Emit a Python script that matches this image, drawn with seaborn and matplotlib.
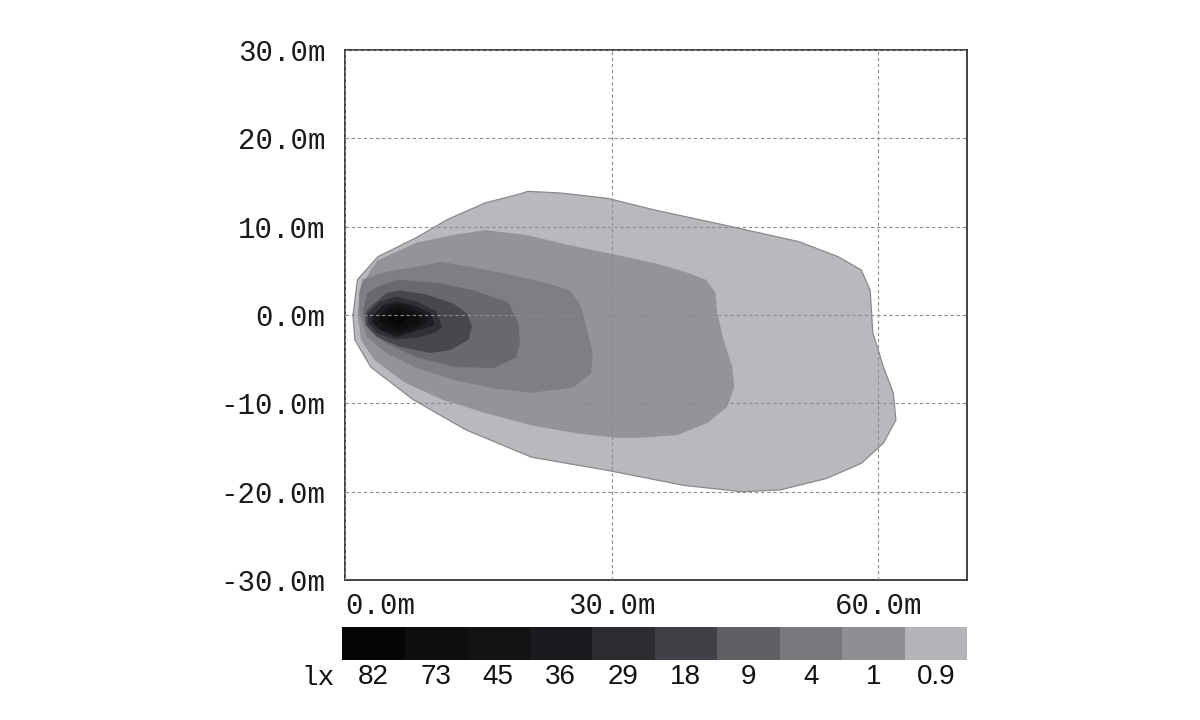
import numpy as np
import matplotlib
matplotlib.use("Agg")
import matplotlib.pyplot as plt
from matplotlib.colors import ListedColormap
import seaborn as sns

# ---------------- data ----------------
levels = ["82", "73", "45", "36", "29", "18", "9", "4", "1", "0.9"]
level_colors = ["#050507", "#0e0e10", "#121214", "#1b1b1f", "#2b2b30",
                "#404046", "#5f5f64", "#78787c", "#8f8f93", "#b5b5b9"]
fill_colors = ["#08080a", "#0f0f11", "#151517", "#1e1e22", "#303035",
               "#47474c", "#69696d", "#7f7f83", "#949498", "#b9b9bd"]

# iso-lux outlines (metres): x along beam, y lateral
c09_x = [0.9, 1.1, 2.9, 7.7, 13.6, 21.0, 29.6, 38.2, 44.7, 49.0, 54.2, 58.1, 60.6, 62.0,
         61.7, 60.6, 59.4, 59.1, 58.1, 55.5, 51.1, 42.6, 34.8, 29.6, 24.4, 20.6, 19.3,
         15.8, 11.5, 8.1, 3.7, 1.4]
c09_y = [0.0, -2.8, -5.9, -9.6, -13.0, -16.1, -17.6, -19.3, -20.0, -19.8, -18.5, -16.8,
         -14.5, -11.9, -8.8, -5.9, -2.0, 2.8, 5.1, 6.6, 8.3, 10.2, 11.9, 13.2, 13.8, 14.0,
         13.6, 12.7, 10.8, 8.8, 6.6, 4.0]

c1_x = [1.4, 1.8, 3.3, 6.8, 11.0, 15.8, 21.0, 26.1, 30.5, 33.1, 37.4, 40.8, 43.0, 43.8,
        43.6, 42.6, 41.9, 41.7, 40.6, 38.2, 34.8, 30.5, 25.3, 20.2, 15.8, 12.4, 8.1, 3.7,
        2.9, 1.8]
c1_y = [0.2, -2.8, -5.1, -7.7, -9.6, -11.1, -12.5, -13.4, -13.9, -13.9, -13.6, -12.2,
        -10.4, -8.2, -5.9, -2.8, 0.2, 2.5, 4.0, 4.9, 5.9, 6.8, 7.9, 9.1, 9.6, 9.1, 8.2, 6.2,
        5.1, 3.2]

c4_x = [1.6, 2.5, 4.6, 8.1, 12.4, 16.7, 21.0, 25.7, 27.7, 27.9, 27.3, 26.6, 25.3, 22.8,
        18.8, 14.5, 10.8, 7.7, 4.6, 2.0, 1.6]
c4_y = [0.2, -2.5, -4.3, -6.0, -7.4, -8.3, -8.8, -8.2, -6.6, -4.3, -2.0, 0.9, 2.8, 3.6,
        4.5, 5.4, 6.0, 5.4, 4.9, 4.0, 2.5]

c9_x = [2.0, 2.7, 4.6, 8.1, 12.4, 16.7, 19.3, 19.7, 19.5, 18.4, 14.5, 10.6, 5.9, 3.7, 2.5]
c9_y = [0.2, -1.7, -3.2, -4.8, -5.9, -6.0, -4.8, -3.2, -0.9, 1.4, 2.8, 3.6, 4.0, 3.2, 2.5]

c18_x = [2.3, 2.3, 3.6, 6.2, 9.6, 11.8, 13.9, 14.3, 13.7, 12.2, 9.2, 6.2, 4.7, 2.8]
c18_y = [0.2, -1.1, -2.5, -3.6, -4.3, -4.0, -2.8, -1.3, 0.2, 1.3, 2.3, 2.8, 2.5, 0.9]

c29_x = [2.6, 2.6, 3.6, 5.8, 8.4, 10.3, 10.9, 10.3, 8.1, 5.8, 3.9]
c29_y = [0.2, -0.9, -2.1, -2.8, -2.5, -1.9, -1.3, 0.4, 1.5, 2.1, 1.5]

c36_x = [3.0, 3.0, 3.9, 5.8, 8.4, 10.1, 9.6, 7.7, 5.8, 4.3]
c36_y = [-0.2, -0.9, -1.7, -2.5, -1.7, -1.1, 0.2, 1.1, 1.5, 1.1]

c45_x = [3.2, 3.4, 4.3, 6.0, 8.1, 9.2, 9.0, 7.5, 6.0, 4.7]
c45_y = [-0.6, -1.1, -1.7, -2.3, -1.5, -0.9, 0.0, 0.8, 1.3, 0.8]

c73_x = [3.8, 4.5, 6.0, 8.1, 8.4, 7.3, 6.0, 4.9]
c73_y = [-0.6, -1.3, -1.9, -1.1, -0.4, 0.4, 0.9, 0.6]

c82_x = [4.8, 6.0, 7.2, 6.0]
c82_y = [-0.4, -1.4, -0.3, 0.4]

x_ticks = [0, 30, 60]
x_tick_labels = ["0.0m", "30.0m", "60.0m"]
y_ticks = [-30, -20, -10, 0, 10, 20, 30]
y_tick_labels = ["-30.0m", "-20.0m", "-10.0m", "0.0m", "10.0m", "20.0m", "30.0m"]

# ---------------- figure ----------------
sns.set_style("white")
plt.rcParams["font.family"] = ["Liberation Mono", "DejaVu Sans Mono"]

fig = plt.figure(figsize=(12, 7.2), dpi=100)
fig.patch.set_facecolor("white")
ax = fig.add_axes([345 / 1200, 1 - 580 / 720, 622 / 1200, 530 / 720])

outlines = [(c09_x, c09_y), (c1_x, c1_y), (c4_x, c4_y), (c9_x, c9_y),
            (c18_x, c18_y), (c29_x, c29_y), (c36_x, c36_y), (c45_x, c45_y),
            (c73_x, c73_y), (c82_x, c82_y)]
shades = fill_colors[::-1]
for i, ((px, py), col) in enumerate(zip(outlines, shades)):
    ax.fill(px, py, color=col, lw=0, zorder=1 + i * 0.01, joinstyle="round")

# thin outline on the outermost iso-line
sns.lineplot(x=c09_x + [c09_x[0]], y=c09_y + [c09_y[0]], sort=False,
             color="#8a8a8e", lw=0.9, ax=ax, zorder=1.5, estimator=None)

ax.set_xlim(0, 70)
ax.set_ylim(-30, 30)
ax.set_xticks(x_ticks)
ax.set_xticklabels(x_tick_labels)
ax.set_yticks(y_ticks)
ax.set_yticklabels(y_tick_labels)
for lab in ax.get_xticklabels()[:1]:
    lab.set_horizontalalignment("left")
ax.tick_params(axis="both", length=0, labelsize=21, colors="#1a1a1a")
ax.tick_params(axis="y", pad=14)
ax.tick_params(axis="x", pad=9)
ax.set_xlabel("")
ax.set_ylabel("")
ax.set_axisbelow(False)
ax.grid(True, color="#8c8c8c", linestyle=(0, (3, 2.5)), linewidth=0.8)
for s in ax.spines.values():
    s.set_visible(True)
    s.set_color("#333333")
    s.set_linewidth(1.3)

# ---------------- colour key ----------------
cax = fig.add_axes([342 / 1200, 1 - 660 / 720, 625 / 1200, 33 / 720])
sns.heatmap(np.arange(len(levels)).reshape(1, -1), cmap=ListedColormap(level_colors),
            cbar=False, xticklabels=levels, yticklabels=False, ax=cax)
cax.tick_params(axis="x", length=0, labelsize=20, pad=3, colors="#111111")
for lab in cax.get_xticklabels():
    lab.set_fontfamily(["Liberation Sans", "DejaVu Sans"])
    lab.set_rotation(0)
cax.set_xlabel("")
cax.set_ylabel("")
fig.text(318 / 1200, 1 - 678 / 720, "lx", ha="center", va="center",
         fontsize=20, color="#111111", family=["Liberation Mono", "DejaVu Sans Mono"])

fig.savefig("out.png", dpi=100, facecolor="white")
